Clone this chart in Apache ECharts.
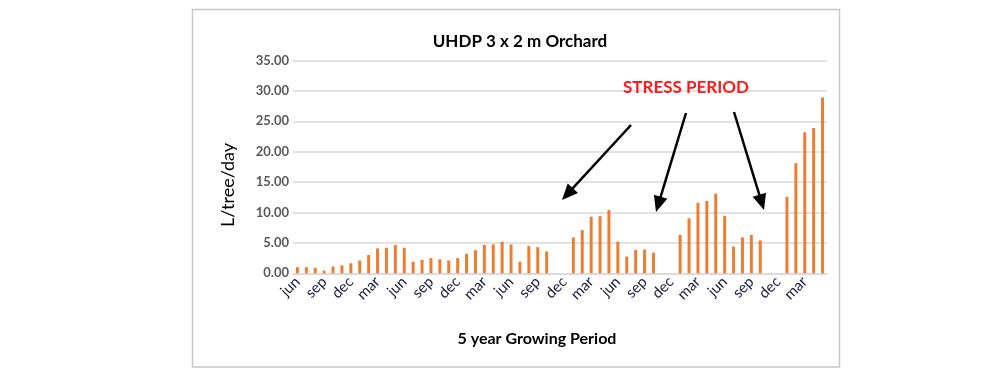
<!DOCTYPE html>
<html>
<head>
<meta charset="utf-8">
<script src="https://cdn.jsdelivr.net/npm/echarts@6/dist/echarts.min.js"></script>
<style>
html,body{margin:0;padding:0;background:#fff;}
#chart{width:1000px;height:374px;}
</style>
</head>
<body>
<div id="chart"></div>
<script>
const monthNames = ['jun','jul','aug','sep','oct','nov','dec','jan','feb','mar','apr','may'];
const categories = [];
for (let y = 0; y < 5; y++) { for (const m of monthNames) categories.push(m); }

const waterUse = [
  1.0, 1.0, 0.9, 0.45, 1.1, 1.3, 1.65, 2.1, 3.0, 4.1, 4.2, 4.65,
  4.2, 1.9, 2.2, 2.5, 2.3, 2.1, 2.5, 3.2, 3.8, 4.65, 4.75, 5.2,
  4.75, 1.9, 4.5, 4.3, 3.6, 0, 0, 5.9, 7.1, 9.3, 9.4, 10.4,
  5.2, 2.75, 3.85, 3.9, 3.4, 0, 0, 6.3, 9.05, 11.6, 11.9, 13.1,
  9.45, 4.4, 5.9, 6.3, 5.4, 0, 0, 12.6, 18.1, 23.2, 23.9, 28.9
];

const yTicks = [0, 5, 10, 15, 20, 25, 30, 35];

const titleText = 'UHDP 3 x 2 m Orchard';
const yName = 'L/tree/day';
const xName = '5 year Growing Period';
const stressLabel = 'STRESS PERIOD';

// annotation arrows (pixel positions of the drawn annotation)
const arrows = [
  [631, 125, 562, 200],
  [686, 113, 656, 212],
  [734, 112, 764, 210]
];

function arrowGraphics() {
  const out = [];
  const headLen = 16, headHalf = 7;
  for (const [x1, y1, x2, y2] of arrows) {
    const dx = x2 - x1, dy = y2 - y1;
    const len = Math.sqrt(dx * dx + dy * dy);
    const ux = dx / len, uy = dy / len;
    const bx = x2 - ux * headLen, by = y2 - uy * headLen;
    const px = -uy, py = ux;
    out.push({
      type: 'line', z: 100,
      shape: { x1: x1, y1: y1, x2: bx + ux * 2, y2: by + uy * 2 },
      style: { stroke: '#000', lineWidth: 2.5 }
    });
    out.push({
      type: 'polygon', z: 100,
      shape: { points: [[x2, y2], [bx + px * headHalf, by + py * headHalf], [bx - px * headHalf, by - py * headHalf]] },
      style: { fill: '#000' }
    });
  }
  return out;
}

const chart = echarts.init(document.getElementById('chart'), null, { renderer: 'canvas' });
chart.setOption({
  backgroundColor: '#fff',
  animation: false,
  title: {
    text: titleText,
    left: 515, top: 28, textAlign: 'center',
    textStyle: { fontFamily: 'Lato', fontSize: 17, fontWeight: 'bold', color: '#000' }
  },
  grid: { left: 293, right: 173, top: 60.5, bottom: 100.7, containLabel: false },
  xAxis: {
    type: 'category',
    data: categories,
    name: xName,
    nameLocation: 'middle',
    nameGap: 58,
    nameTextStyle: { fontFamily: 'Lato', fontSize: 16, fontWeight: 'bold', color: '#000', padding: [0, 46, 0, 0] },
    axisLine: { lineStyle: { color: '#d9d9d9', width: 1.5 } },
    axisTick: { show: false },
    axisLabel: {
      interval: 2, rotate: 45, margin: 6,
      fontFamily: 'Lato', fontSize: 15, color: '#1c1c40'
    }
  },
  yAxis: {
    type: 'value',
    min: 0, max: 35, interval: 5,
    axisLine: { show: false },
    axisTick: { show: false },
    splitLine: { lineStyle: { color: '#d9d9d9', width: 1.5 } },
    axisLabel: {
      margin: 4,
      fontFamily: 'Lato', fontSize: 13, fontWeight: 'bold', color: '#595959',
      formatter: v => (yTicks.indexOf(v) >= 0 ? v.toFixed(2) : '')
    }
  },
  series: [{
    type: 'bar',
    data: waterUse,
    barWidth: 3,
    itemStyle: { color: '#ED7D31' }
  }],
  graphic: [
    {
      type: 'rect', z: -10, silent: true,
      shape: { x: 192.5, y: 9.5, width: 647, height: 357.5 },
      style: { fill: 'none', stroke: '#c8c8c8', lineWidth: 1.5 }
    },
    {
      type: 'text', z: 100,
      x: 228, y: 185, rotation: Math.PI / 2,
      style: { text: yName, fill: '#000', font: '18px Lato', align: 'center', verticalAlign: 'middle' }
    },
    {
      type: 'text', z: 100,
      left: 623, top: 79,
      style: { text: stressLabel, fill: '#ff1a1a', font: 'bold 17px Lato' }
    }
  ].concat(arrowGraphics())
});
</script>
</body>
</html>
